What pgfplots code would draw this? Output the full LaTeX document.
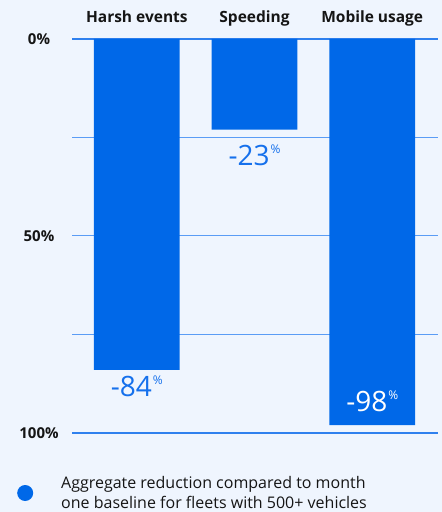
\documentclass[border=0pt]{standalone}
\usepackage{pgfplots}
\pgfplotsset{compat=1.18}
\usepackage{fontspec}
\setmainfont{Open Sans}

\definecolor{bgcol}{HTML}{EFF5FE}
\definecolor{barblue}{HTML}{0068E8}
\definecolor{labelblue}{HTML}{1570EC}
\definecolor{gridblue}{HTML}{5A9CF5}
\definecolor{lineblue}{HTML}{2F80EE}
\definecolor{ink}{HTML}{151515}

% superscript percent sign after the large value labels
\newcommand\pct{\kern1bp\raisebox{12bp}{\fontsize{12bp}{12bp}\selectfont\%}}
\newcommand\valfont{\fontsize{28bp}{28bp}\selectfont}

\begin{document}
\begin{tikzpicture}
\path[use as bounding box, fill=bgcol] (0,0) rectangle (442bp,512bp);
\begin{axis}[
  at={(72bp,79bp)}, anchor=south west,
  scale only axis, width=366bp, height=394bp,
  xmin=-0.551, xmax=2.559, ymin=-100, ymax=0,
  axis line style={draw=none},
  tick style={draw=none},
  xtick={0,1,2},
  xticklabels={Harsh events, Speeding, Mobile usage},
  xticklabel pos=upper,
  xticklabel style={anchor=base, yshift=16bp, font=\fontsize{15.5bp}{15.5bp}\selectfont\bfseries, text=ink},
  ytick={-25,-50,-75},
  yticklabels={,50\%,},
  extra y ticks={0,-100},
  extra y tick labels={0\%,100\%},
  extra y tick style={grid style={line width=2bp, color=lineblue}},
  yticklabel style={anchor=center, xshift=-33bp, font=\fontsize{15bp}{15bp}\selectfont\bfseries, text=ink},
  ymajorgrids,
  grid style={line width=1bp, color=gridblue},
  legend style={at={(0,0)}, anchor=west, xshift=-55bp, yshift=-60bp,
    draw=none, fill=none, inner sep=0pt,
    font=\fontsize{16bp}{20bp}\selectfont, text=ink,
    cells={align=left, anchor=west}},
]
% reduction per behaviour (percent)
\addplot[ybar, bar width=0.729, fill=barblue, draw=none,
  legend image code/.code={\fill[barblue] (8bp,0) circle (8bp); \path[draw=none, fill=none] (0,0) rectangle (42bp,0.1bp);}]
  coordinates {(0,-84) (1,-23) (2,-98)};
\addlegendentry{Aggregate reduction compared to month\\one baseline for fleets with 500+ vehicles}

% value labels below the shorter bars
\addplot[draw=none, forget plot, point meta=explicit symbolic,
  nodes near coords={\valfont -\pgfplotspointmeta\pct},
  every node near coord/.style={anchor=north, inner sep=0pt, yshift=-6bp, text=labelblue}]
  coordinates {(0,-84) [84]};
\addplot[draw=none, forget plot, point meta=explicit symbolic,
  nodes near coords={\valfont -\pgfplotspointmeta\pct},
  every node near coord/.style={anchor=north, inner sep=0pt, yshift=-15bp, text=labelblue}]
  coordinates {(1,-23) [23]};
% label inside the longest bar
\addplot[draw=none, forget plot, point meta=explicit symbolic,
  nodes near coords={\valfont -\pgfplotspointmeta\pct},
  every node near coord/.style={anchor=south, inner sep=0pt, yshift=13bp, text=white}]
  coordinates {(2,-98) [98]};
\end{axis}
\end{tikzpicture}
\end{document}
